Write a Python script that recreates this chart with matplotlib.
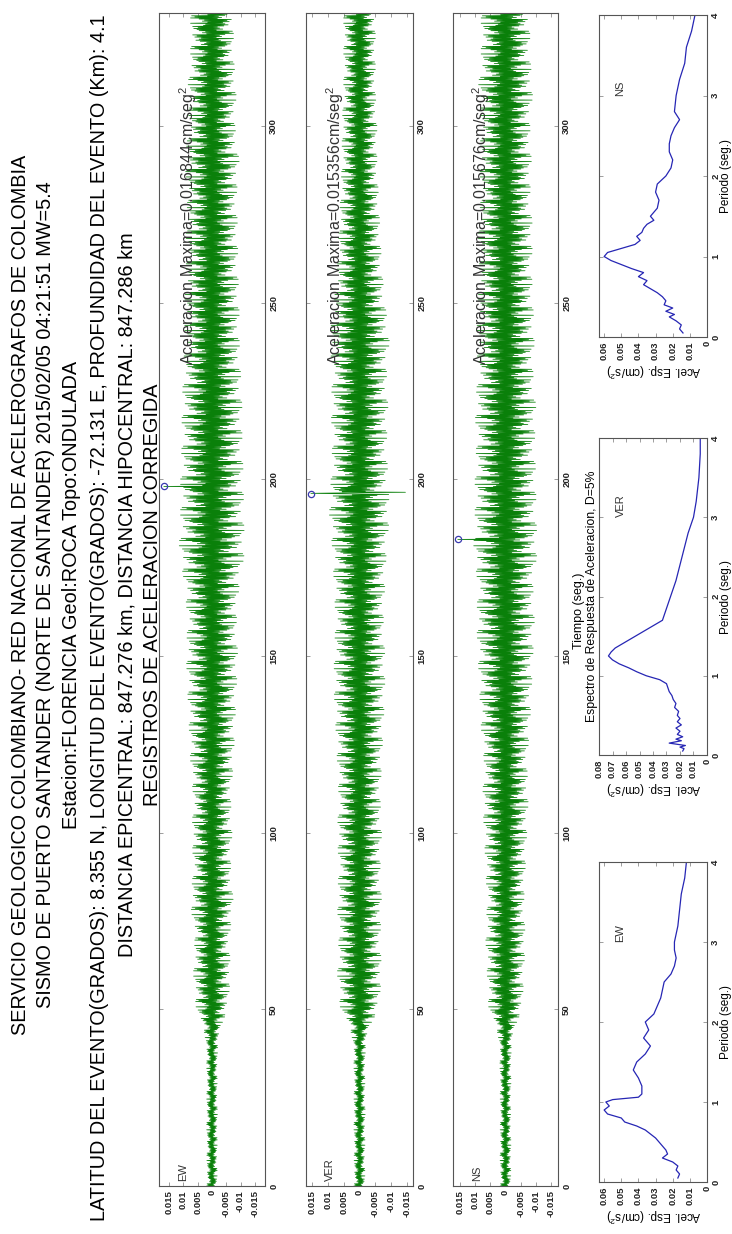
import numpy as np
import matplotlib
matplotlib.use("Agg")
import matplotlib.pyplot as plt

plt.rcParams['font.family'] = ['Liberation Sans', 'DejaVu Sans']
plt.rcParams['mathtext.default'] = 'regular'

# ---------------- data ----------------
title_lines = [
    "SERVICIO GEOLOGICO COLOMBIANO- RED NACIONAL DE ACELEROGRAFOS DE COLOMBIA",
    "SISMO DE PUERTO SANTANDER (NORTE DE SANTANDER) 2015/02/05 04:21:51 MW=5.4",
    "Estacion:FLORENCIA Geol:ROCA Topo:ONDULADA",
    "LATITUD DEL EVENTO(GRADOS): 8.355 N, LONGITUD DEL EVENTO(GRADOS): -72.131 E, PROFUNDIDAD DEL EVENTO (Km): 4.1",
    "DISTANCIA EPICENTRAL: 847.276 km, DISTANCIA HIPOCENTRAL: 847.286 km",
    "REGISTROS DE ACELERACION CORREGIDA",
]

channels = ["EW", "VER", "NS"]
peak_acc = [0.016844, 0.015356, 0.015676]
peak_time = [198.0, 196.0, 183.0]
t_end = 332.0

# envelope of each record, every 10 s (cm/s^2)
env_t = [0, 10, 20, 30, 40, 45, 50, 60, 70, 80, 90, 100, 110, 120, 130, 140, 150, 160,
         170, 180, 190, 200, 210, 220, 230, 240, 250, 260, 270, 280, 290, 300, 310, 320, 332]
env_ew = [0.0018, 0.0018, 0.0019, 0.0018, 0.0020, 0.0030, 0.0055, 0.0065, 0.0060, 0.0075,
          0.0065, 0.0070, 0.0065, 0.0075, 0.0080, 0.0085, 0.0090, 0.0085, 0.0095, 0.0115,
          0.0110, 0.0110, 0.0105, 0.0105, 0.0100, 0.0095, 0.0095, 0.0090, 0.0090, 0.0085,
          0.0095, 0.0080, 0.0085, 0.0075, 0.0075]
env_ver = [0.0017, 0.0017, 0.0018, 0.0017, 0.0019, 0.0030, 0.0060, 0.0070, 0.0065, 0.0070,
           0.0065, 0.0070, 0.0065, 0.0070, 0.0075, 0.0080, 0.0080, 0.0075, 0.0080, 0.0085,
           0.0095, 0.0090, 0.0085, 0.0090, 0.0085, 0.0095, 0.0080, 0.0070, 0.0065, 0.0060,
           0.0055, 0.0055, 0.0050, 0.0050, 0.0050]
env_ns = [0.0017, 0.0018, 0.0017, 0.0018, 0.0019, 0.0030, 0.0055, 0.0060, 0.0065, 0.0060,
          0.0065, 0.0070, 0.0075, 0.0070, 0.0080, 0.0085, 0.0090, 0.0095, 0.0090, 0.0105,
          0.0100, 0.0100, 0.0095, 0.0100, 0.0090, 0.0095, 0.0090, 0.0085, 0.0090, 0.0080,
          0.0085, 0.0080, 0.0090, 0.0080, 0.0080]
envelopes = [env_ew, env_ver, env_ns]
# relative swing of successive half cycles
swing = [1.0, 0.45, 0.8, 0.3, 0.95, 0.6, 0.2, 0.7, 0.5, 0.85, 0.35, 0.65, 0.25, 0.9,
         0.55, 0.4, 0.75, 0.3, 0.6, 1.0, 0.5, 0.2, 0.8, 0.45, 0.7, 0.35, 0.9, 0.6, 0.25]

# response spectra (period s, spectral acceleration)
per_ew = [0.05, 0.1, 0.15, 0.2, 0.25, 0.3, 0.35, 0.4, 0.45, 0.5, 0.55, 0.6, 0.65, 0.7, 0.75,
          0.8, 0.85, 0.9, 0.95, 1.0, 1.03, 1.06, 1.1, 1.2, 1.3, 1.4, 1.5, 1.6, 1.7, 1.8, 1.9,
          2.0, 2.1, 2.2, 2.3, 2.4, 2.5, 2.6, 2.7, 2.8, 2.9, 3.0, 3.2, 3.4, 3.6, 3.8, 4.0]
sa_ew = [0.017, 0.016, 0.018, 0.017, 0.020, 0.026, 0.023, 0.024, 0.026, 0.028, 0.030, 0.033,
         0.036, 0.041, 0.048, 0.050, 0.058, 0.060, 0.057, 0.059, 0.055, 0.040, 0.038, 0.038,
         0.040, 0.043, 0.041, 0.036, 0.033, 0.037, 0.034, 0.036, 0.031, 0.029, 0.027, 0.026,
         0.025, 0.021, 0.019, 0.018, 0.019, 0.019, 0.017, 0.016, 0.015, 0.013, 0.012]
per_ver = [0.05, 0.08, 0.1, 0.12, 0.15, 0.18, 0.2, 0.23, 0.26, 0.3, 0.34, 0.38, 0.42, 0.46,
           0.5, 0.55, 0.6, 0.65, 0.7, 0.75, 0.8, 0.85, 0.9, 0.95, 1.0, 1.05, 1.1, 1.15, 1.2,
           1.25, 1.3, 1.35, 1.45, 1.55, 1.65, 1.7, 1.8, 1.9, 2.0, 2.2, 2.4, 2.6, 2.8, 3.0,
           3.2, 3.5, 3.8, 4.0]
sa_ver = [0.018, 0.017, 0.020, 0.016, 0.028, 0.019, 0.023, 0.018, 0.022, 0.020, 0.023, 0.019,
          0.022, 0.020, 0.022, 0.021, 0.024, 0.023, 0.025, 0.026, 0.028, 0.029, 0.030, 0.035,
          0.045, 0.052, 0.058, 0.065, 0.070, 0.073, 0.071, 0.068, 0.058, 0.048, 0.038, 0.033,
          0.031, 0.029, 0.027, 0.023, 0.020, 0.017, 0.014, 0.010, 0.008, 0.006, 0.005, 0.005]
per_ns = [0.05, 0.1, 0.15, 0.2, 0.25, 0.28, 0.32, 0.36, 0.4, 0.45, 0.5, 0.55, 0.6, 0.65, 0.7,
          0.75, 0.8, 0.85, 0.9, 0.95, 1.0, 1.05, 1.1, 1.15, 1.2, 1.25, 1.3, 1.35, 1.4, 1.45,
          1.5, 1.6, 1.7, 1.8, 1.9, 2.0, 2.1, 2.2, 2.3, 2.4, 2.5, 2.6, 2.7, 2.8, 3.0, 3.2, 3.4,
          3.6, 3.8, 4.0]
sa_ns = [0.014, 0.016, 0.015, 0.018, 0.022, 0.019, 0.024, 0.020, 0.025, 0.024, 0.026, 0.029,
         0.033, 0.037, 0.035, 0.040, 0.037, 0.044, 0.050, 0.056, 0.060, 0.058, 0.050, 0.042,
         0.039, 0.041, 0.038, 0.037, 0.035, 0.031, 0.033, 0.029, 0.028, 0.030, 0.029, 0.024,
         0.021, 0.020, 0.022, 0.022, 0.021, 0.019, 0.016, 0.019, 0.018, 0.016, 0.013, 0.012,
         0.009, 0.007]
spectra = {"EW": (per_ew, sa_ew, 0.063), "VER": (per_ver, sa_ver, 0.08), "NS": (per_ns, sa_ns, 0.063)}

amp_ticks = [-0.015, -0.01, -0.005, 0, 0.005, 0.01, 0.015]
amp_labels = ['-0.015', '-0.01', '-0.005', '0', '0.005', '0.01', '0.015']

# ---------------- figure (landscape page turned on its side) ----------------
W, H = 732, 1234
fig = plt.figure(figsize=(W / 100, H / 100), dpi=100, facecolor='white')


def box(x0, y0, x1, y1):
    return [x0 / W, 1 - y1 / H, (x1 - x0) / W, (y1 - y0) / H]


def style(ax):
    for s in ax.spines.values():
        s.set_color('#555555')
        s.set_linewidth(0.8)
    ax.tick_params(which='both', direction='in', length=3, width=0.5, color='#777777',
                   labelsize=6.8, pad=3, top=True, right=True, left=True, bottom=True,
                   labelleft=False, labelright=True)
    for lab in ax.get_xticklabels() + ax.get_yticklabels():
        lab.set_fontweight('bold')
        lab.set_color('#222222')


# title block: column position (px) and centre along the page (px)
title_x = [21, 46, 72, 100, 127, 152]
title_c = [595, 595, 595, 618, 595, 595]
for xp, yc, line in zip(title_x, title_c, title_lines):
    fig.text(xp / W, 1 - yc / H, line, rotation=90, ha='center', va='center', fontsize=14.3)

seis_x = [(159, 265), (306, 413), (453, 558)]
for i, ch in enumerate(channels):
    ax = fig.add_axes(box(seis_x[i][0], 13, seis_x[i][1], 1186))
    dt = 0.15
    t = np.arange(0, t_end, dt)
    env = np.interp(t, env_t, envelopes[i])
    k = np.arange(len(t))
    w = np.array(swing)[k % len(swing)]
    trace = np.where(k % 2 == 0, 1.0, -1.0) * env * w
    j = int(round(peak_time[i] / dt))
    trace[j] = peak_acc[i]
    if ch == "VER":
        trace[j + 2] = -0.0145
    ax.plot(trace, t, color='#0a800a', lw=0.55)
    ax.plot([peak_acc[i]], [peak_time[i]], 'o', mfc='none', mec='#3a3ab0', ms=4.5, mew=0.9)
    lim = 1.1 * peak_acc[i]
    ax.set_xlim(lim, -lim)
    ax.set_ylim(0, t_end)
    ax.set_xticks(amp_ticks)
    ax.set_xticklabels(amp_labels, rotation=90)
    ax.set_yticks(range(0, 301, 50))
    ax.set_yticklabels([str(v) for v in range(0, 301, 50)], rotation=90, va='center')
    style(ax)
    ax.text(0.6 * peak_acc[i], 1.5, ch, rotation=90, ha='center', va='bottom',
            fontsize=8, color='#333333')
    ax.text(0.5 * peak_acc[i], 0.7 * t_end,
            'Aceleracion Maxima=%.6fcm/seg$^2$' % peak_acc[i],
            rotation=90, ha='center', va='bottom', fontsize=11.5, color='#333333')
    if ch == "NS":
        ax.text((579 - 453) / 105, 0.49, 'Tiempo (seg.)', transform=ax.transAxes, rotation=90,
                ha='center', va='center', fontsize=9)

spec_y = {"NS": (15, 337), "VER": (438, 755), "EW": (862, 1182)}
for ch in channels:
    per, sa, top = spectra[ch]
    y0, y1 = spec_y[ch]
    ax = fig.add_axes(box(599, y0, 707, y1))
    ax.plot(sa, per, color='#2626b4', lw=0.9)
    ax.set_xlim(top, 0)
    ax.set_ylim(0, 4)
    xt = np.round(np.arange(0, top + 1e-9, 0.01), 2)
    ax.set_xticks(xt)
    ax.set_xticklabels(['0' if v == 0 else '%.2f' % v for v in xt], rotation=90)
    ax.set_yticks([0, 1, 2, 3, 4])
    ax.set_yticklabels(['0', '1', '2', '3', '4'], rotation=90, va='center')
    style(ax)
    ax.text(0.8 * top, 3.0, ch, rotation=90, ha='center', va='bottom', fontsize=8,
            color='#333333')
    ax.text(1.18, 0.5, 'Periodo (seg.)', transform=ax.transAxes, rotation=90,
            ha='center', va='center', fontsize=8.5)
    ax.annotate('Acel. Esp. (cm/s$^2$)', xy=(0.5, 0), xycoords='axes fraction',
                xytext=(0, -24), textcoords='offset points', rotation=180,
                ha='center', va='center', fontsize=8.5)
    if ch == "VER":
        ax.text((592 - 599) / 108, 0.5, 'Espectro de Respuesta de Aceleracion, D=5%',
                transform=ax.transAxes, rotation=90, ha='center', va='center', fontsize=8.8)

fig.savefig('out.png', dpi=100, facecolor='white')
